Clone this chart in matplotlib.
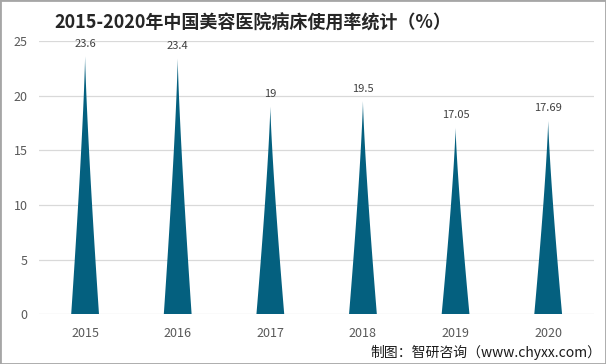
import numpy as np
import matplotlib
matplotlib.use('Agg')
import matplotlib.pyplot as plt
from matplotlib.patches import Polygon, Rectangle

plt.rcParams['font.family'] = ['Noto Sans CJK SC', 'DejaVu Sans']

years = ['2015', '2016', '2017', '2018', '2019', '2020']
rates = [23.6, 23.4, 19, 19.5, 17.05, 17.69]
labels = ['23.6', '23.4', '19', '19.5', '17.05', '17.69']

fig = plt.figure(figsize=(6.06, 3.64), dpi=100)
ax = fig.add_axes([0.064, 0.137, 0.917, 0.750])

# spike shaped bars, sides slightly bent inwards
hw = 0.15
t = np.linspace(0, 1, 40)
for i, v in enumerate(rates):
    w = hw * (1 - t) ** 1.25
    xs = np.concatenate([i - w, (i + w)[::-1]])
    ys = np.concatenate([t * v, (t * v)[::-1]])
    ax.add_patch(Polygon(np.column_stack([xs, ys]), closed=True,
                         facecolor='#04607f', edgecolor='none', zorder=3))
    ax.text(i, v + 0.7, labels[i], ha='center', va='bottom',
            fontsize=8, color='#404040', zorder=4)

ax.set_xlim(-0.5, 5.5)
ax.set_ylim(0, 25)
ax.set_xticks(range(len(years)))
ax.set_xticklabels(years)
ax.set_yticks([0, 5, 10, 15, 20, 25])
ax.tick_params(axis='both', length=0, labelsize=9, labelcolor='#595959')
ax.tick_params(axis='x', pad=9)
ax.tick_params(axis='y', pad=8)
ax.grid(axis='y', color='#d9d9d9', linewidth=0.9, zorder=0)
for s in ax.spines.values():
    s.set_visible(False)

fig.text(0.417, 0.937, '2015-2020年中国美容医院病床使用率统计（%）',
         ha='center', va='center', fontsize=13, fontweight='bold', color='#262626')
fig.text(0.993, 0.033, '制图：智研咨询（www.chyxx.com）',
         ha='right', va='center', fontsize=10, color='#1a1a1a')

fig.patches.append(Rectangle((0, 0), 1, 1, transform=fig.transFigure,
                             fill=False, edgecolor='#a6a6a6', linewidth=2))

plt.savefig('out.png', dpi=100)
